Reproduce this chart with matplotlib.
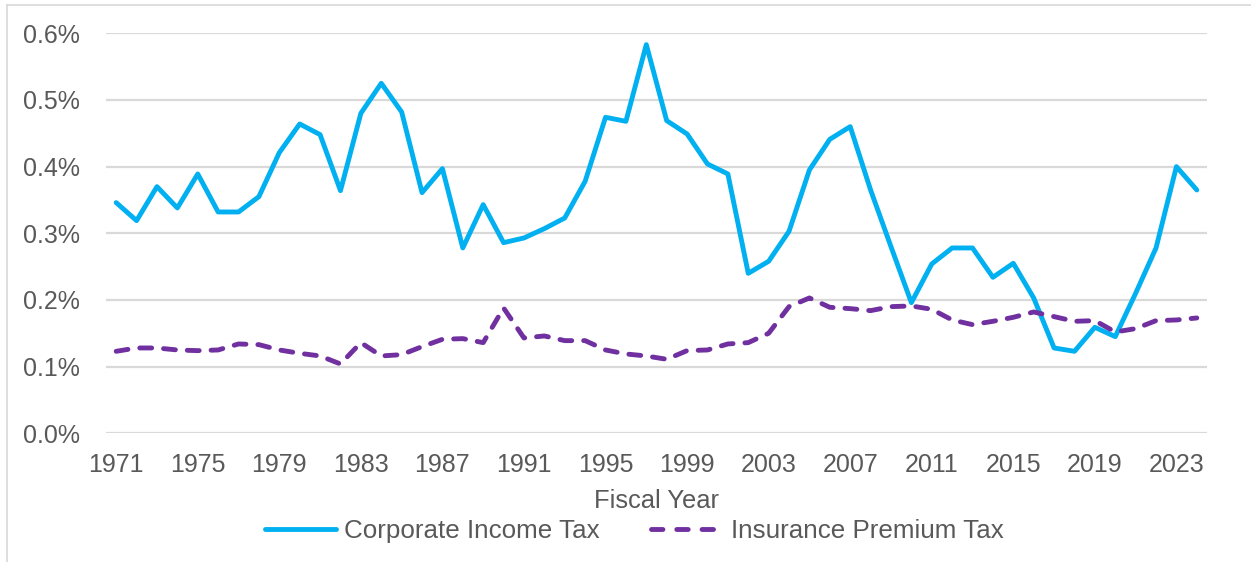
import matplotlib
matplotlib.use("Agg")
import matplotlib.pyplot as plt
from matplotlib.lines import Line2D
from matplotlib.ticker import FuncFormatter, FixedLocator

years = list(range(1971, 2025))

corporate_income_tax = [
    0.346, 0.319, 0.370, 0.338, 0.389, 0.332, 0.332, 0.355, 0.421, 0.464,
    0.448, 0.364, 0.480, 0.525, 0.482, 0.361, 0.397, 0.278, 0.343, 0.286,
    0.293, 0.307, 0.323, 0.378, 0.474, 0.468, 0.583, 0.469, 0.449, 0.404,
    0.389, 0.240, 0.258, 0.303, 0.395, 0.441, 0.460, 0.365, 0.280, 0.196,
    0.254, 0.278, 0.278, 0.234, 0.255, 0.203, 0.128, 0.123, 0.159, 0.145,
    0.210, 0.278, 0.400, 0.365,
]

insurance_premium_tax = [
    0.123, 0.128, 0.128, 0.125, 0.124, 0.125, 0.134, 0.133, 0.125, 0.120,
    0.116, 0.104, 0.136, 0.116, 0.118, 0.130, 0.141, 0.142, 0.136, 0.188,
    0.143, 0.146, 0.139, 0.139, 0.125, 0.119, 0.116, 0.111, 0.124, 0.125,
    0.134, 0.136, 0.150, 0.190, 0.203, 0.189, 0.187, 0.184, 0.190, 0.191,
    0.186, 0.170, 0.163, 0.168, 0.174, 0.182, 0.175, 0.168, 0.169, 0.152,
    0.157, 0.169, 0.170, 0.173,
]

year_labels = list(range(1971, 2024, 4))
y_ticks = [0.0, 0.1, 0.2, 0.3, 0.4, 0.5, 0.6]

series_names = ["Corporate Income Tax", "Insurance Premium Tax"]

TEXT = "#595959"
GRID = "#D9D9D9"
BLUE = "#00B0F0"
PURPLE = "#7030A0"

plt.rcParams["font.family"] = ["Liberation Sans", "DejaVu Sans"]

fig = plt.figure(figsize=(12.51, 5.62), dpi=100)
ax = fig.add_axes([106 / 1251, 1 - 433.3 / 562, (1207 - 106) / 1251, 400 / 562])

lw = 3.5
ax.plot(years, corporate_income_tax, color=BLUE, lw=lw,
        solid_joinstyle="round", solid_capstyle="round")
ax.plot(years, insurance_premium_tax, color=PURPLE, lw=lw,
        ls=(0, (2.45, 2.45)), dash_capstyle="round", dash_joinstyle="round")

ax.set_xlim(1970.5, 2024.5)
ax.set_ylim(0, 0.6)
ax.xaxis.set_major_locator(FixedLocator(year_labels))
ax.set_xticklabels([str(y) for y in year_labels])
ax.yaxis.set_major_locator(FixedLocator(y_ticks))
ax.yaxis.set_major_formatter(FuncFormatter(lambda v, p: f"{v:.1f}%"))

ax.grid(axis="y", color=GRID, lw=1.6)
ax.set_axisbelow(True)
for s in ax.spines.values():
    s.set_visible(False)
ax.tick_params(axis="both", length=0, labelsize=18, labelcolor=TEXT)
ax.tick_params(axis="y", pad=19)
ax.tick_params(axis="x", pad=14)

ax.set_xlabel("Fiscal Year", fontsize=18.4, color=TEXT, labelpad=9)

# legend keys: solid line and a three-dash key
legend_handles = [
    Line2D([], [], color=BLUE, lw=lw, solid_capstyle="round"),
    Line2D([], [], color=PURPLE, lw=lw, ls=(0, (2.35, 2.85)),
           dash_capstyle="round"),
]
leg = fig.legend(legend_handles, series_names, loc="center",
                 bbox_to_anchor=(634 / 1251, 1 - 531 / 562),
                 ncol=2, frameon=False, fontsize=18.7, handlelength=2.75,
                 handletextpad=0.3, columnspacing=2.0)
for t in leg.get_texts():
    t.set_color(TEXT)

# light outline around the chart area
fig.add_artist(Line2D([7 / 1251, 7 / 1251], [0, 1 - 5 / 562],
                      transform=fig.transFigure, color=GRID, lw=1.2))
fig.add_artist(Line2D([7 / 1251, 1], [1 - 5 / 562, 1 - 5 / 562],
                      transform=fig.transFigure, color=GRID, lw=1.2))

fig.savefig("out.png", dpi=100, facecolor="white")
